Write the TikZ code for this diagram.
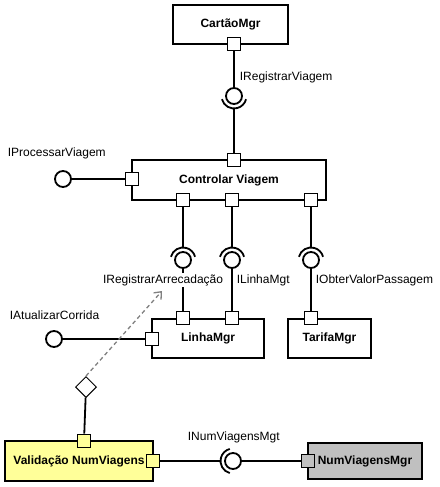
\documentclass[tikz,border=0pt]{standalone}
\usepackage{fontspec}
\setmainfont{Liberation Sans}
\usetikzlibrary{shapes.geometric,arrows.meta}
\begin{document}
\begin{tikzpicture}[x=1pt,y=-1pt,line width=1.8pt,
    comp/.style={draw,rectangle,inner sep=0pt,font=\fontsize{12}{14}\selectfont\bfseries},
    port/.style={draw,fill=white,minimum size=13pt,inner sep=0pt},
    ball/.style={draw,circle,fill=white,minimum size=16pt,inner sep=0pt},
    lbl/.style={fill=white,inner xsep=0pt,inner ysep=1.5pt,font=\fontsize{12}{14}\selectfont},
    dep/.style={draw=gray,line width=1.3pt,dash pattern=on 4pt off 3pt,-{Straight Barb[length=6pt,width=10pt]}}]
        \useasboundingbox (0,0) rectangle (439,487);
        % components
        \node[comp,minimum width=115pt,minimum height=39pt] (cartao) at (230.5,24.5) {CartãoMgr};
        \node[comp,minimum width=194pt,minimum height=40pt] (ctrl) at (229,180) {Controlar Viagem};
        \node[comp,minimum width=112pt,minimum height=39pt] (linha) at (208,338.5) {LinhaMgr};
        \node[comp,minimum width=83pt,minimum height=39pt] (tarifa) at (329.5,338.5) {TarifaMgr};
        \node[comp,fill={rgb,255:red,255;green,255;blue,153},minimum width=148pt,minimum height=40pt] (valid) at (79,461) {Validação NumViagens};
        \node[comp,fill={rgb,255:red,192;green,192;blue,192},minimum width=114pt,minimum height=36pt] (num) at (365,461) {NumViagensMgr};
        % ports
        \node[port] (pCartao) at (234,44) {};
        \node[port] (pCtrlT) at (234,160) {};
        \node[port] (pCtrlL) at (132,179) {};
        \node[port] (pCtrlA) at (183,200) {};
        \node[port] (pCtrlB) at (232,200) {};
        \node[port] (pCtrlC) at (311,200) {};
        \node[port] (pLinhaA) at (183,318) {};
        \node[port] (pLinhaB) at (232,318) {};
        \node[port] (pLinhaL) at (152,339) {};
        \node[port] (pTarifa) at (311,318) {};
        \node[port,fill={rgb,255:red,255;green,255;blue,153}] (pValT) at (84,441) {};
        \node[port,fill={rgb,255:red,255;green,255;blue,153}] (pValR) at (153,461) {};
        \node[port,fill={rgb,255:red,192;green,192;blue,192}] (pNum) at (308,461) {};
        % interfaces
        \node[ball] (bRV) at (234,96) {};
        \node[ball] (bPV) at (63,179) {};
        \node[ball] (bRA) at (183,260) {};
        \node[ball] (bLM) at (232,260) {};
        \node[ball] (bOV) at (311,260) {};
        \node[ball] (bAC) at (54,339) {};
        \node[ball] (bNV) at (233,461) {};
        \draw (bRV) ++(165:12.5) arc[start angle=165,end angle=15,radius=12.5];
        \draw (bRA) ++(195:12.5) arc[start angle=195,end angle=345,radius=12.5];
        \draw (bLM) ++(195:12.5) arc[start angle=195,end angle=345,radius=12.5];
        \draw (bOV) ++(195:12.5) arc[start angle=195,end angle=345,radius=12.5];
        \draw (bNV) ++(105:12.5) arc[start angle=105,end angle=255,radius=12.5];
        \coordinate (sRV) at (234,108.5);
        \coordinate (sRA) at (183,247.5);
        \coordinate (sLM) at (232,247.5);
        \coordinate (sOV) at (311,247.5);
        \coordinate (sNV) at (220.5,461);
        % connectors
        \draw (pCartao) -- (bRV);
        \draw (sRV) -- (pCtrlT);
        \draw (bPV) -- (pCtrlL);
        \draw (pCtrlA) -- (sRA);
        \draw (pCtrlB) -- (sLM);
        \draw (pCtrlC) -- (sOV);
        \draw (bRA) -- (pLinhaA);
        \draw (bLM) -- (pLinhaB);
        \draw (bOV) -- (pTarifa);
        \draw (bAC) -- (pLinhaL);
        \draw (pValR) -- (sNV);
        \draw (bNV) -- (pNum);
        \node[draw,diamond,fill=white,line width=1pt,minimum size=21pt,inner sep=0pt] (dia) at (86,387) {};
        \draw (dia) -- (pValT);
        % labels
        \node[lbl,anchor=west] (lRV) at (239,77) {IRegistrarViagem};
        \node[lbl,anchor=west] (lPV) at (7,153) {IProcessarViagem};
        \node[lbl,anchor=east] (lRA) at (224,280) {IRegistrarArrecadação};
        \node[lbl,anchor=west] (lLM) at (236,280) {ILinhaMgt};
        \node[lbl,anchor=west] (lOV) at (315,280) {IObterValorPassagem};
        \node[lbl,anchor=west] (lAC) at (9,315) {IAtualizarCorrida};
        \node[lbl,anchor=west] (lNV) at (187,437) {INumViagensMgt};
        \coordinate (depEnd) at (162,291);
        \draw[dep] (dia.north) -- (depEnd);
\end{tikzpicture}
\end{document}
